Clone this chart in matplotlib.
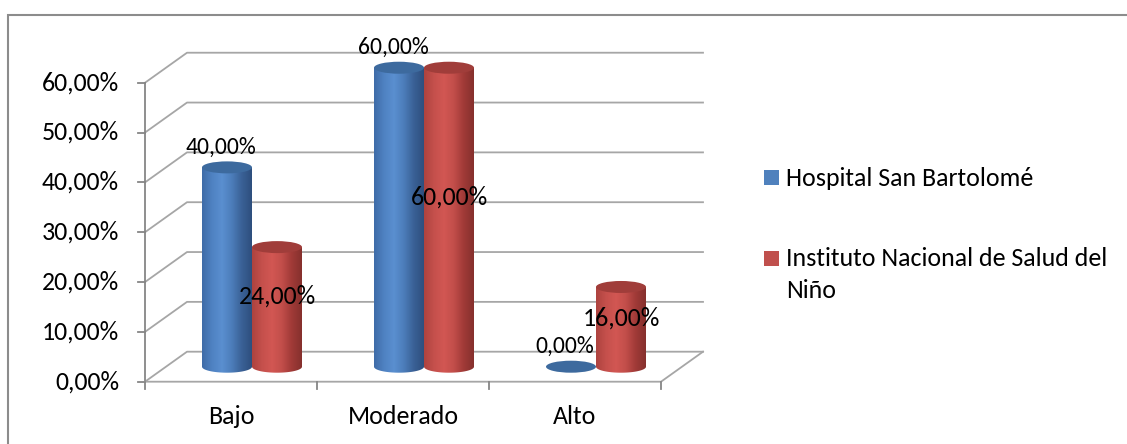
import matplotlib.pyplot as plt
import numpy as np
from matplotlib.colors import LinearSegmentedColormap
from matplotlib.patches import Ellipse, Polygon, Rectangle

categories = ['Bajo', 'Moderado', 'Alto']
series_names = ['Hospital San Bartolomé', 'Instituto Nacional de Salud del\nNiño']
hospital = [40.0, 60.0, 0.0]
instituto = [24.0, 60.0, 16.0]
y_ticks = [0, 10, 20, 30, 40, 50, 60]

W, H = 1127, 444
plt.rcParams['font.family'] = ['Carlito', 'DejaVu Sans']
FS = 18.6

fig = plt.figure(figsize=(W / 100, H / 100), dpi=100)
ax = fig.add_axes([0, 0, 1, 1])
ax.set_axis_off()

# front plane layout (pixels)
X0_PX, CAT_PX = 145, 172
Y0_PX, PCT_PX = 381.7, 4.983
DX, DY = 42 / CAT_PX, 30 / PCT_PX      # depth of the 3d box
BAR_W = 50 / CAT_PX
ERY = 6 / PCT_PX                        # ellipse half height
PT = 0.72                               # points per pixel

grid_c = '#A6A6A6'
axis_c = '#868686'
n = len(categories)

# outer border (only top/left visible)
ax.add_patch(Rectangle((8 / W, -0.1), 1.2, 0.1 + (H - 15) / H, transform=fig.transFigure,
                       fill=False, ec='#8C8C8C', lw=1.5))

# walls: gridlines
for v in y_ticks:
    ax.plot([-0.5, -0.5 + DX, n - 0.5 + DX], [v, v + DY, v + DY], color=grid_c, lw=1.3, zorder=1)
    ax.plot([-0.5 - 7 / CAT_PX, -0.5], [v, v], color=axis_c, lw=1.3, zorder=1)
    ax.annotate(f'{v:.2f}%'.replace('.', ','), (-0.5, v), xytext=(-26 * PT, 0),
                textcoords='offset points', ha='right', va='center', fontsize=FS)

ax.plot([-0.5, -0.5], [0, y_ticks[-1]], color=axis_c, lw=1.3, zorder=1)
ax.plot([-0.5, n - 0.5, n - 0.5 + DX], [0, 0, DY], color=grid_c, lw=1.3, zorder=1)
for i in range(n + 1):
    ax.plot([i - 0.5, i - 0.5], [0, -7 / PCT_PX], color=axis_c, lw=1.3, zorder=1)
for i, c in enumerate(categories):
    ax.annotate(c, (i, 0), xytext=(0, -35 * PT), textcoords='offset points',
                ha='center', va='center', fontsize=FS)

blue_cm = LinearSegmentedColormap.from_list('b', ['#3F6CA8', '#4F82C2', '#5A8FD0', '#4C7DBA', '#3A6196', '#2E4F7E'])
red_cm = LinearSegmentedColormap.from_list('r', ['#AE433F', '#C5504C', '#D25753', '#C24E4A', '#A03A37', '#86302D'])
grad = np.linspace(0, 1, 100).reshape(1, -1)


def cylinder(xc, val, cmap, top_color):
    hw = BAR_W / 2
    base = DY / 2
    top = base + val
    if val > 0:
        t = np.linspace(np.pi, 2 * np.pi, 50)
        pts = [(xc - hw, top)] + list(zip(xc + hw * np.cos(t), base + ERY * np.sin(t))) + [(xc + hw, top)]
        poly = Polygon(pts, closed=True, fc='none', ec='none')
        ax.add_patch(poly)
        im = ax.imshow(grad, extent=(xc - hw, xc + hw, base - ERY, top), aspect='auto',
                       cmap=cmap, zorder=2)
        im.set_clip_path(poly)
    ax.add_patch(Ellipse((xc, top), 2 * hw, 2 * ERY, fc=top_color, ec='none', zorder=3))
    return top


series = [(hospital, blue_cm, '#3D6A9E', -1), (instituto, red_cm, '#A03D3A', 1)]
for i in range(n):
    for vals, cm, tc, side in series:
        xc = i + DX / 2 + side * BAR_W / 2
        top = cylinder(xc, vals[i], cm, tc)
        lab = f'{vals[i]:.2f}%'.replace('.', ',')
        if side < 0:
            ax.annotate(lab, (xc, top), xytext=(-6 * PT, 20 * PT), textcoords='offset points',
                        ha='center', va='center', fontsize=17, zorder=5)
        else:
            ax.annotate(lab, (xc, DY / 2 + 0.55 * vals[i] + 1), ha='center', va='center',
                        fontsize=FS, zorder=5)

# legend
leg_colors = ['#4F81BD', '#C0504D']
leg_y = [178, 258]
for name, col, py in zip(series_names, leg_colors, leg_y):
    ax.add_patch(Rectangle((764 / W, (H - py - 7.5) / H), 15 / W, 15 / H,
                           transform=fig.transFigure, fc=col, ec='none'))
    for k, line in enumerate(name.split('\n')):
        fig.text(786 / W, (H - py - 32 * k) / H, line, ha='left', va='center', fontsize=FS)

ax.set_xlim(-0.5 - X0_PX / CAT_PX, -0.5 + (W - X0_PX) / CAT_PX)
ax.set_ylim(-(H - Y0_PX) / PCT_PX, Y0_PX / PCT_PX)

fig.savefig('out.png', dpi=100)
